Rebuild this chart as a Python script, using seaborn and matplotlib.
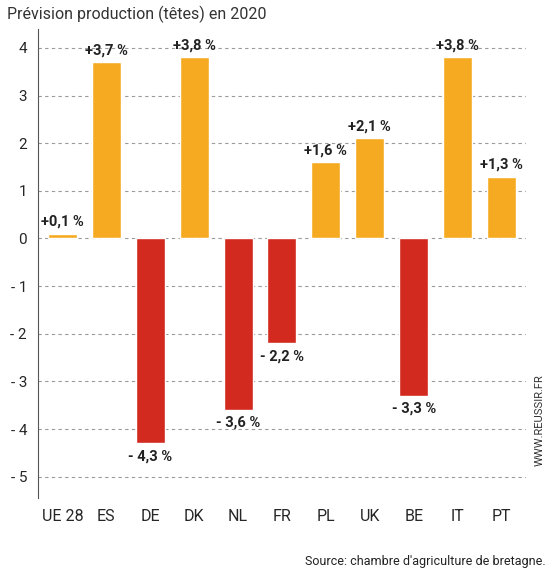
import matplotlib
matplotlib.use("Agg")
import matplotlib.pyplot as plt
import seaborn as sns
import pandas as pd

countries = ["UE 28", "ES", "DE", "DK", "NL", "FR", "PL", "UK", "BE", "IT", "PT"]
values = [0.1, 3.7, -4.3, 3.8, -3.6, -2.2, 1.6, 2.1, -3.3, 3.8, 1.3]
yticks = [4, 3, 2, 1, 0, -1, -2, -3, -4, -5]

orange = "#f6aa22"
red = "#d22a1e"

sns.set_style("white")
plt.rcParams["font.family"] = ["Roboto", "DejaVu Sans"]

df = pd.DataFrame({"pays": countries, "val": values})
df["signe"] = ["pos" if v >= 0 else "neg" for v in values]

fig = plt.figure(figsize=(5.54, 5.76), dpi=100)
ax = fig.add_axes([0.069, 0.135, 0.88, 0.815])
ax.set_axisbelow(True)
for t in yticks:
    ax.axhline(t, color="#9a9a9a", lw=0.8, ls=(0, (3, 3)), zorder=0)
sns.barplot(data=df, x="pays", y="val", hue="signe", palette={"pos": orange, "neg": red},
            dodge=False, width=0.66, legend=False, ax=ax, saturation=1)

for i, v in enumerate(values):
    txt = ("+" if v >= 0 else "- ") + f"{abs(v):.1f}".replace(".", ",") + " %"
    if v >= 0:
        ax.text(i, v + 0.1, txt, ha="center", va="bottom", fontsize=10.5, fontweight="bold", color="#222222")
    else:
        ax.text(i, v - 0.12, txt, ha="center", va="top", fontsize=10.5, fontweight="bold", color="#222222")

ax.set_ylim(-5.45, 4.4)
ax.set_xlim(-0.55, 10.55)
ax.set_yticks(yticks)
ax.set_yticklabels([str(t) if t >= 0 else f"- {abs(t)}" for t in yticks], fontsize=11)
ax.tick_params(axis="x", labelsize=11.5, length=0, pad=8)
ax.tick_params(axis="y", length=0, pad=8)
ax.set_xlabel("")
ax.set_ylabel("")
for s in ["top", "right", "bottom"]:
    ax.spines[s].set_visible(False)
ax.spines["left"].set_color("#555555")
ax.spines["left"].set_linewidth(0.8)

fig.text(0.012, 0.975, "Prévision production (têtes) en 2020", fontsize=11.5, color="#333333", va="center")
fig.text(0.985, 0.025, "Source: chambre d'agriculture de bretagne.", fontsize=9, color="#222222", ha="right", va="center")
fig.text(0.975, 0.27, "WWW.REUSSIR.FR", fontsize=8, color="#333333", rotation=90, ha="center", va="center")

fig.savefig("out.png", dpi=100)
